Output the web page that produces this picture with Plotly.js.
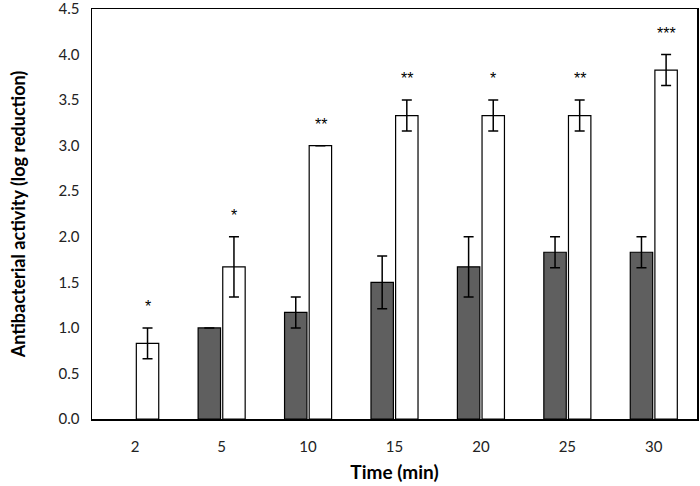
<!DOCTYPE html>
<html><head><meta charset="utf-8">
<script src="https://cdn.plot.ly/plotly-3.0.1.min.js"></script>
<style>html,body{margin:0;padding:0;background:#fff}#c{width:700px;height:486px}</style>
</head><body><div id="c"></div>
<script>
const categories = ['2','5','10','15','20','25','30'];
const darkValues = [null, 1.0, 1.17, 1.5, 1.67, 1.83, 1.83];
const darkErrors = [0, 0, 0.17, 0.29, 0.33, 0.17, 0.17];
const whiteValues = [0.83, 1.67, 3.0, 3.33, 3.33, 3.33, 3.83];
const whiteErrors = [0.17, 0.33, 0, 0.17, 0.17, 0.17, 0.17];
const significance = ['*', '*', '**', '**', '*', '**', '***'];
const yTicks = [0, 0.5, 1, 1.5, 2, 2.5, 3, 3.5, 4, 4.5];

const errStyle = {type:'data', visible:true, color:'#000', thickness:1.5, width:5};
const traces = [
  {type:'bar', x:categories, y:darkValues, marker:{color:'#5f5f5f', line:{color:'#000', width:1.2}},
   error_y:Object.assign({array:darkErrors}, errStyle), hoverinfo:'none'},
  {type:'bar', x:categories, y:whiteValues, marker:{color:'#ffffff', line:{color:'#000', width:1.2}},
   error_y:Object.assign({array:whiteErrors}, errStyle), hoverinfo:'none'}
];
const annotations = categories.map((c,i)=>({
  x:i, y:whiteValues[i]+whiteErrors[i]+0.12, xref:'x', yref:'y', text:significance[i],
  showarrow:false, xshift:12.5, yanchor:'bottom', font:{family:'Liberation Sans, Arial', size:16, color:'#000'}
}));
const layout = {
  width:700, height:486, margin:{l:92, r:3, t:9, b:67},
  paper_bgcolor:'#fff', plot_bgcolor:'#fff', showlegend:false,
  barmode:'group', bargap:0.43, bargroupgap:0.09,
  font:{family:'Lato, Open Sans, sans-serif', color:'#222'},
  xaxis:{type:'category', range:[-0.5,6.5], showline:true, linecolor:'#000', linewidth:1.5, mirror:true,
    ticks:'', tickfont:{size:15, color:'#222'}, showgrid:false, tickangle:0, ticklabelstandoff:13,
    title:{text:'<b>Time (min)</b>', font:{size:19, color:'#000'}, standoff:12}},
  yaxis:{range:[0,4.5], tickvals:yTicks, ticktext:yTicks.map(v=>v.toFixed(1)), ticklabeloverflow:'allow',
    showline:true, linecolor:'#000', linewidth:1.5, mirror:true, ticks:'', showgrid:false, zeroline:false,
    tickfont:{size:15, color:'#222'}, ticklabelstandoff:8,
    title:{text:'<b>Antibacterial activity (log reduction)</b>', font:{size:18, color:'#000'}, standoff:28}},
  annotations:annotations
};
Plotly.newPlot('c', traces, layout, {staticPlot:true});
</script></body></html>
